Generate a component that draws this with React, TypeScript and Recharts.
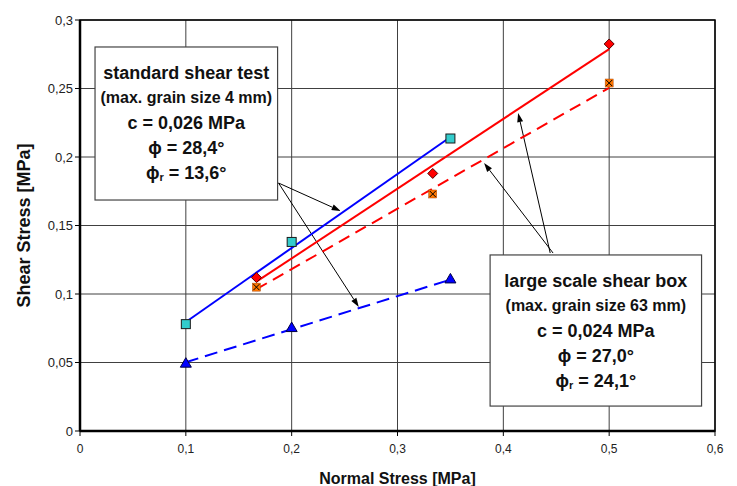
import {
  CartesianGrid,
  ReferenceArea,
  ReferenceLine,
  Scatter,
  ScatterChart,
  XAxis,
  YAxis,
} from "recharts"

const xTicks = [0, 0.1, 0.2, 0.3, 0.4, 0.5, 0.6]
const yTicks = [0, 0.05, 0.1, 0.15, 0.2, 0.25, 0.3]

// measured points
const stdPeak = [
  { x: 0.1, y: 0.078 },
  { x: 0.2, y: 0.138 },
  { x: 0.35, y: 0.2135 },
]
const stdResidual = [
  { x: 0.1, y: 0.0495 },
  { x: 0.2, y: 0.0755 },
  { x: 0.35, y: 0.111 },
]
const largePeak = [
  { x: 0.1667, y: 0.112 },
  { x: 0.3333, y: 0.188 },
  { x: 0.5, y: 0.2825 },
]
const largeResidual = [
  { x: 0.1667, y: 0.105 },
  { x: 0.3333, y: 0.173 },
  { x: 0.5, y: 0.254 },
]

// trend lines (end points)
const stdPeakFit = [
  { x: 0.1, y: 0.0796 },
  { x: 0.35, y: 0.2146 },
]
const stdResidualFit = [
  { x: 0.1, y: 0.0502 },
  { x: 0.35, y: 0.1105 },
]
const largePeakFit = [
  { x: 0.1667, y: 0.109 },
  { x: 0.5, y: 0.2788 },
]
const largeResidualFit = [
  { x: 0.1667, y: 0.1035 },
  { x: 0.5, y: 0.2505 },
]

const stdText = ["standard shear test", "(max. grain size 4 mm)", "c = 0,026 MPa", "28,4°", "13,6°"]
const largeText = ["large scale shear box", "(max. grain size 63 mm)", "c = 0,024 MPa", "27,0°", "24,1°"]

const fmt = (v: number) => String(v).replace(".", ",")

const Square = (p: any) => (
  <rect x={p.cx - 4.5} y={p.cy - 4.5} width={9} height={9} fill="#33CCCC" stroke="#1a1a1a" strokeWidth={1} />
)
const Triangle = (p: any) => (
  <polygon
    points={`${p.cx},${p.cy - 5.5} ${p.cx + 5.5},${p.cy + 4} ${p.cx - 5.5},${p.cy + 4}`}
    fill="#0000FF"
    stroke="#000044"
    strokeWidth={1}
  />
)
const Diamond = (p: any) => (
  <polygon
    points={`${p.cx},${p.cy - 5} ${p.cx + 5},${p.cy} ${p.cx},${p.cy + 5} ${p.cx - 5},${p.cy}`}
    fill="#FF0000"
    stroke="#550000"
    strokeWidth={1}
  />
)
const CrossSquare = (p: any) => (
  <g>
    <rect x={p.cx - 4} y={p.cy - 4} width={8} height={8} fill="#FF7700" stroke="#aa4400" strokeWidth={0.5} />
    <line x1={p.cx - 3} y1={p.cy - 3} x2={p.cx + 3} y2={p.cy + 3} stroke="#000" strokeWidth={1} />
    <line x1={p.cx + 3} y1={p.cy - 3} x2={p.cx - 3} y2={p.cy + 3} stroke="#000" strokeWidth={1} />
  </g>
)
const NoDot = () => <g />

function Arrow(p: any) {
  const { x1, y1, x2, y2 } = p
  const a = Math.atan2(y2 - y1, x2 - x1)
  const len = 9
  const w = 3
  const bx = x2 - len * Math.cos(a)
  const by = y2 - len * Math.sin(a)
  const pts = `${x2},${y2} ${bx + w * Math.sin(a)},${by - w * Math.cos(a)} ${bx - w * Math.sin(a)},${by + w * Math.cos(a)}`
  return (
    <g>
      <line x1={x1} y1={y1} x2={bx} y2={by} stroke="#000" strokeWidth={1} />
      <polygon points={pts} fill="#000" />
    </g>
  )
}

function makeBox(lines: string[]) {
  return (p: any) => {
    const cx = p.x + p.width / 2
    const big = { fontSize: 18, fontWeight: 700, fill: "#111" }
    return (
      <g>
        <rect x={p.x} y={p.y} width={p.width} height={p.height} fill="#fff" stroke="#444" strokeWidth={1.2} />
        <text x={cx} y={p.y + 26} textAnchor="middle" dominantBaseline="central" {...big}>
          {lines[0]}
        </text>
        <text x={cx} y={p.y + 51} textAnchor="middle" dominantBaseline="central" fontSize={16} fontWeight={700} fill="#111">
          {lines[1]}
        </text>
        <text x={cx} y={p.y + 76} textAnchor="middle" dominantBaseline="central" {...big}>
          {lines[2]}
        </text>
        <text x={cx} y={p.y + 101} textAnchor="middle" dominantBaseline="central" {...big}>
          {"ϕ = " + lines[3]}
        </text>
        <text x={cx} y={p.y + 126} textAnchor="middle" dominantBaseline="central" {...big}>
          <tspan>ϕ</tspan>
          <tspan fontSize={11} dy={4}>r</tspan>
          <tspan dy={-4}>{" = " + lines[4]}</tspan>
        </text>
      </g>
    )
  }
}

const YTitle = (p: any) => {
  const vb = p.viewBox
  const cy = vb.y + vb.height / 2
  return (
    <text x={24} y={cy} transform={`rotate(-90, 24, ${cy})`} textAnchor="middle" dominantBaseline="central" fontSize={18} fontWeight={700} fill="#111">
      Shear Stress [MPa]
    </text>
  )
}

export default function App() {
  return (
    <div style={{ position: "absolute", left: 0, top: 0, fontFamily: "'Liberation Sans', Arial, sans-serif", background: "#fff" }}>
      <ScatterChart width={737} height={486} margin={{ top: 20, right: 22, bottom: 0, left: 0 }}>
        <CartesianGrid stroke="#404040" strokeWidth={1} />
        <XAxis
          type="number"
          dataKey="x"
          domain={[0, 0.6]}
          ticks={xTicks}
          tickFormatter={fmt}
          height={55}
          axisLine={{ stroke: "#000", strokeWidth: 2.5 }}
          tickLine={{ stroke: "#000" }}
          tickSize={5}
          tickMargin={8}
          tick={{ fontSize: 12, fill: "#222" }}
          label={{ value: "Normal Stress [MPa]", position: "insideBottom", offset: 2, fontSize: 16, fontWeight: 700, fill: "#111" }}
        />
        <YAxis
          type="number"
          dataKey="y"
          domain={[0, 0.3]}
          ticks={yTicks}
          tickFormatter={fmt}
          width={80}
          axisLine={{ stroke: "#000", strokeWidth: 2.5 }}
          tickLine={{ stroke: "#000" }}
          tickSize={5}
          tick={{ fontSize: 13, fill: "#222" }}
          label={{ content: YTitle }}
        />
        <ReferenceArea x1={0} x2={0.6} y1={0} y2={0.3} fill="none" stroke="#000" strokeWidth={1.5} fillOpacity={0} />
        <ReferenceArea x1={0.0142} x2={0.1867} y1={0.1686} y2={0.2803} shape={makeBox(stdText)} />
        <ReferenceArea x1={0.3875} x2={0.5873} y1={0.0182} y2={0.1285} shape={makeBox(largeText)} />

        <Scatter data={stdPeakFit} line={{ stroke: "#0000FF", strokeWidth: 2 }} shape={NoDot} isAnimationActive={false} />
        <Scatter data={stdResidualFit} line={{ stroke: "#0000FF", strokeWidth: 2, strokeDasharray: "13 7" }} shape={NoDot} isAnimationActive={false} />
        <Scatter data={largePeakFit} line={{ stroke: "#FF0000", strokeWidth: 2 }} shape={NoDot} isAnimationActive={false} />
        <Scatter data={largeResidualFit} line={{ stroke: "#FF0000", strokeWidth: 2, strokeDasharray: "12 7" }} shape={NoDot} isAnimationActive={false} />

        <Scatter data={stdPeak} shape={Square} isAnimationActive={false} />
        <Scatter data={stdResidual} shape={Triangle} isAnimationActive={false} />
        <Scatter data={largePeak} shape={Diamond} isAnimationActive={false} />
        <Scatter data={largeResidual} shape={CrossSquare} isAnimationActive={false} />

        <ReferenceLine segment={[{ x: 0.1876, y: 0.181 }, { x: 0.2463, y: 0.1606 }]} shape={Arrow} />
        <ReferenceLine segment={[{ x: 0.1876, y: 0.181 }, { x: 0.2634, y: 0.0905 }]} shape={Arrow} />
        <ReferenceLine segment={[{ x: 0.4443, y: 0.1299 }, { x: 0.414, y: 0.2321 }]} shape={Arrow} />
        <ReferenceLine segment={[{ x: 0.447, y: 0.1299 }, { x: 0.3818, y: 0.1956 }]} shape={Arrow} />
      </ScatterChart>
    </div>
  )
}
